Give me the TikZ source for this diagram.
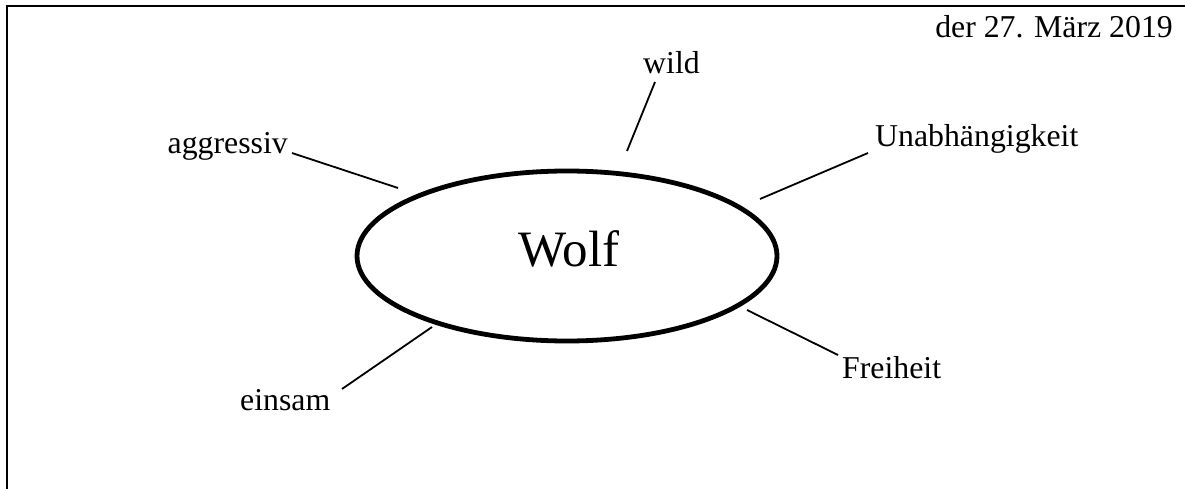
\documentclass[tikz,border=0pt]{standalone}
\usepackage{fontspec}
\setmainfont{Liberation Serif}
\begin{document}
\begin{tikzpicture}[x=1pt,y=-1pt,
  lbl/.style={inner sep=0pt,font=\fontsize{31.8}{36}\selectfont},
  conn/.style={line width=1.8pt},
  frameline/.style={line width=2.6pt}]
\useasboundingbox (0,0) rectangle (1185,489);
% frame
\coordinate (ftr) at (1185,6);
\coordinate (ftl) at (7,6);
\coordinate (fbl) at (7,489);
\draw[frameline] (ftr) -- (ftl) -- (fbl);
% date
\node[lbl,anchor=base east] (date) at (1173,38) {der 27. März 2019};
% center ellipse
\draw[line width=4.8pt] (567,256) ellipse [x radius=210, y radius=85];
\node[inner sep=0pt,anchor=base,font=\fontsize{51}{56}\selectfont] (wolf) at (569,266) {Wolf};
% labels
\node[lbl,anchor=base east] (agg) at (288,154) {aggressiv};
\node[lbl,anchor=base west] (wild) at (643,74) {wild};
\node[lbl,anchor=base west] (unab) at (875,147) {Unabhängigkeit};
\node[lbl,anchor=base west] (eins) at (240,410) {einsam};
\node[lbl,anchor=base west] (frei) at (842,378) {Freiheit};
% connector ends
\coordinate (a1) at (292,153); \coordinate (a2) at (398,188);
\coordinate (w1) at (655,82);  \coordinate (w2) at (627,151);
\coordinate (u1) at (868,153); \coordinate (u2) at (760,199);
\coordinate (e1) at (342,389); \coordinate (e2) at (432,327);
\coordinate (f1) at (838,355); \coordinate (f2) at (747,310);
\draw[conn] (a1) -- (a2);
\draw[conn] (w1) -- (w2);
\draw[conn] (u1) -- (u2);
\draw[conn] (e1) -- (e2);
\draw[conn] (f1) -- (f2);
\end{tikzpicture}
\end{document}
